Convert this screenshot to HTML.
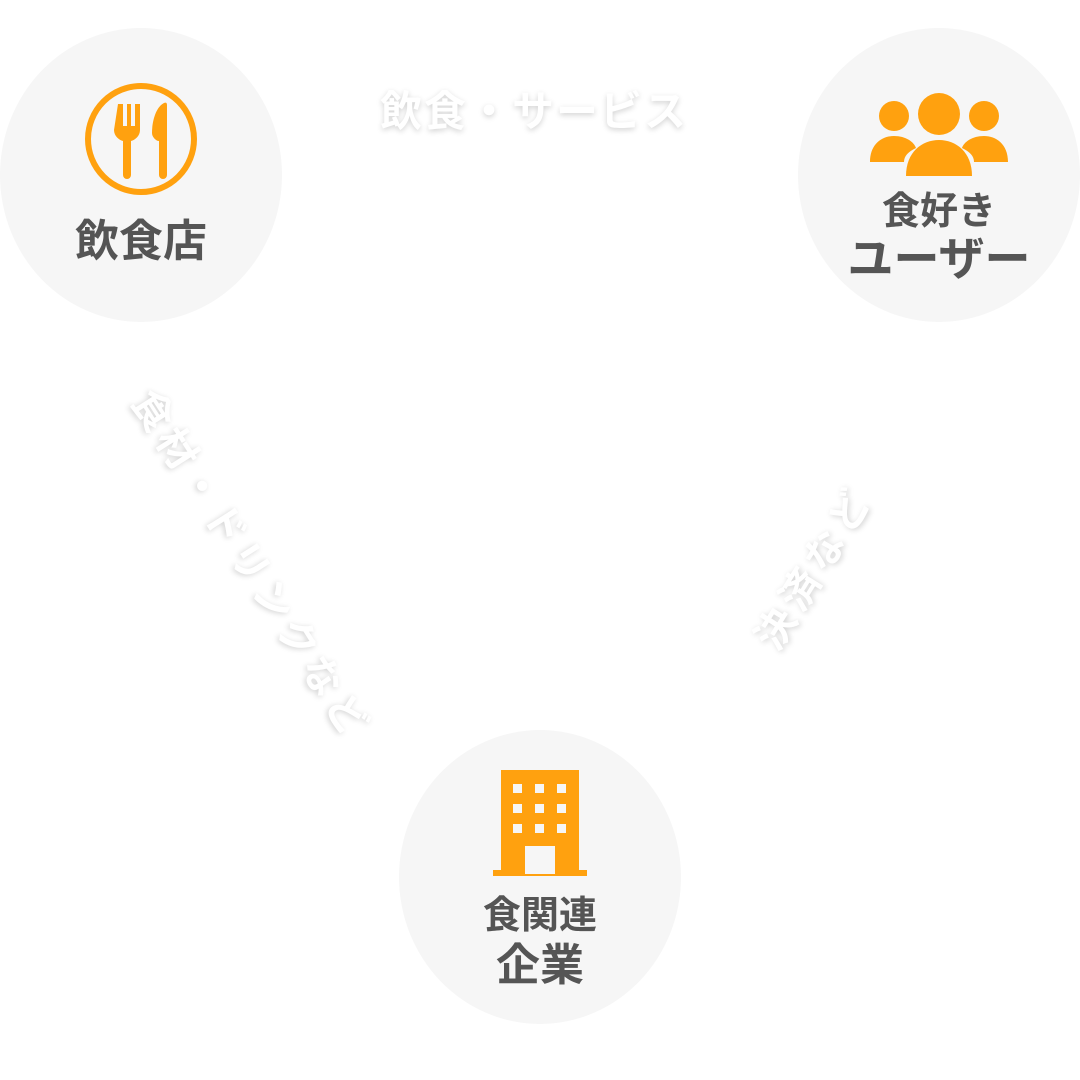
<!DOCTYPE html><html><head><meta charset="utf-8"><style>
body{margin:0;width:1080px;height:1080px;background:#fff;position:relative;overflow:hidden;font-family:"Liberation Sans","Noto Sans CJK JP",sans-serif;font-weight:bold}
.c{position:absolute;width:282px;height:294px;border-radius:50%;background:#f6f6f6}
.t{position:absolute;color:#555;text-align:center;width:282px;line-height:1.1}
.w{position:absolute;color:#fff;font-size:40px;text-shadow:0 2px 6px rgba(0,0,0,.18);white-space:nowrap;transform-origin:center;line-height:50px;height:50px}
</style></head><body>
<div class="c" style="left:0;top:28px"></div>
<div class="c" style="left:798px;top:28px"></div>
<div class="c" style="left:399px;top:730px"></div>
<svg style="position:absolute;left:84px;top:82px" width="114" height="114" viewBox="0 0 114 114">
<circle cx="57" cy="57" r="53" fill="none" stroke="#ffa10f" stroke-width="6"/>
<path d="M34 22h5v22h4V22h4v22h4V22h5v26c0 6-5 10-9 11v34a4 4 0 0 1-8 0V59c-4-1-9-5-9-11z" fill="#ffa10f"/>
<path d="M80 21c-8 4-12 18-12 30 0 4 4 8 7 8v34a4 4 0 0 0 8 0V23c0-2-1-3-3-2z" fill="#ffa10f"/>
</svg>
<div class="t" style="left:0;top:218px;font-size:44px">飲食店</div>
<svg style="position:absolute;left:870px;top:92px" width="138" height="84" viewBox="0 0 138 84">
<g fill="#ffa10f"><circle cx="24" cy="24" r="15"/><circle cx="114" cy="24" r="15"/><circle cx="69" cy="22" r="21"/>
<path d="M0 70c0-18 12-26 24-26s20 6 22 12c-8 4-12 8-12 14z"/><path d="M138 70c0-18-12-26-24-26s-20 6-22 12c8 4 12 8 12 14z"/>
<path d="M36 84c0-24 16-36 33-36s33 12 33 36z"/></g></svg>
<div class="t" style="left:798px;top:192px;font-size:38px">食好き</div>
<div class="t" style="left:798px;top:234px;font-size:46px">ユーザー</div>
<svg style="position:absolute;left:493px;top:770px" width="94" height="108" viewBox="0 0 94 108">
<rect x="8" y="0" width="78" height="104" fill="#ffa10f"/><rect x="0" y="100" width="94" height="6" fill="#ffa10f"/>
<rect x="32" y="76" width="30" height="28" fill="#f6f6f6"/>
<g fill="#f6f6f6"><rect x="20" y="14" width="9" height="9"/><rect x="42" y="14" width="9" height="9"/><rect x="64" y="14" width="9" height="9"/>
<rect x="20" y="34" width="9" height="9"/><rect x="42" y="34" width="9" height="9"/><rect x="64" y="34" width="9" height="9"/>
<rect x="20" y="54" width="9" height="9"/><rect x="42" y="54" width="9" height="9"/><rect x="64" y="54" width="9" height="9"/></g></svg>
<div class="t" style="left:399px;top:896px;font-size:38px">食関連</div>
<div class="t" style="left:399px;top:942px;font-size:44px">企業</div>
<div class="w" style="left:380px;top:87px;font-size:42px;letter-spacing:2px">飲食・サービス</div>
<div class="w" style="left:20px;top:540px;width:460px;text-align:center;letter-spacing:5px;transform:rotate(57.5deg)">食材・ドリンクなど</div>
<div class="w" style="left:705px;top:543px;width:220px;text-align:center;letter-spacing:6px;transform:rotate(-58deg)">決済など</div>
</body></html>
